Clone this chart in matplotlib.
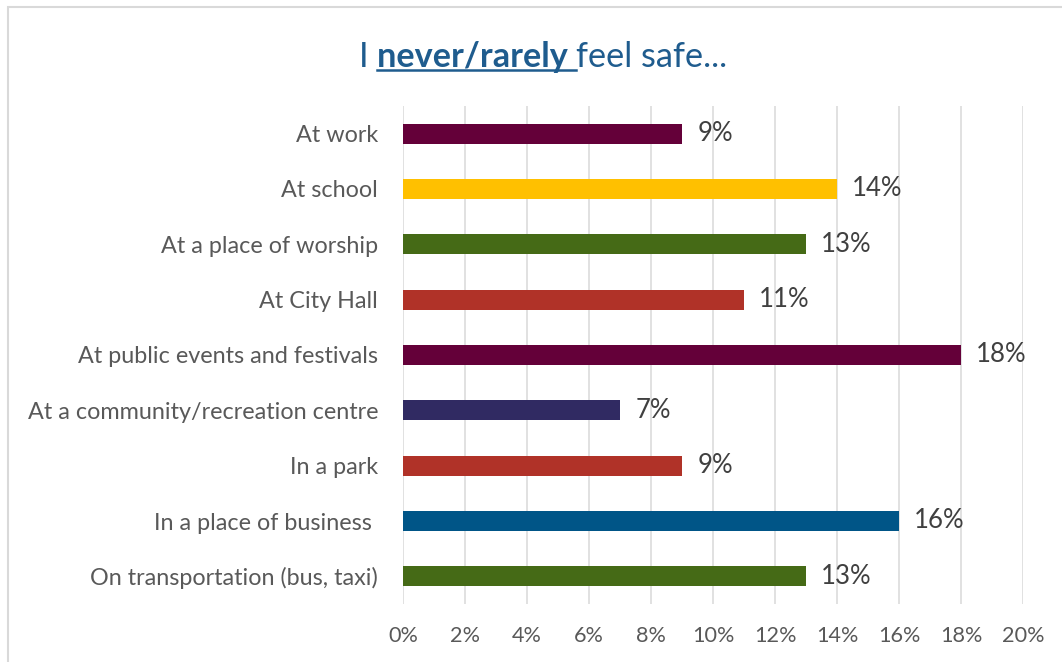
import matplotlib
matplotlib.use("Agg")
import matplotlib.pyplot as plt
from matplotlib.patches import Rectangle
from matplotlib.lines import Line2D
from matplotlib.ticker import FuncFormatter

plt.rcParams['font.family'] = ['Lato', 'DejaVu Sans']

# data
categories = ["At work", "At school", "At a place of worship", "At City Hall",
              "At public events and festivals", "At a community/recreation centre",
              "In a park", "In a place of business ", "On transportation (bus, taxi)"]
values = [9, 14, 13, 11, 18, 7, 9, 16, 13]
colors = ["#640039", "#FFC000", "#456A16", "#B03228", "#640039",
          "#302A62", "#B03228", "#005587", "#456A16"]
xticks = [0, 2, 4, 6, 8, 10, 12, 14, 16, 18, 20]
title_parts = ["I ", "never/rarely ", "feel safe..."]

W, H = 1062, 662
fig = plt.figure(figsize=(W / 100, H / 100), dpi=100)

# light border of the chart area
fig.patches.append(Rectangle((8 / W, -0.05), 1.1, 1 - 7 / H + 0.05,
                             transform=fig.transFigure, fill=False,
                             edgecolor="#D9D9D9", linewidth=1.5))

ax = fig.add_axes([403 / W, 58 / H, 620 / W, 498 / H])
ypos = list(range(len(categories)))
ax.barh(ypos, values, height=0.36, color=colors, zorder=3)

for y, v in zip(ypos, values):
    ax.annotate(f"{v}%", (v, y), xytext=(11, 0), textcoords="offset points",
                va="center", ha="left", fontsize=18.5, color="#404040")

ax.set_xlim(0, 20)
ax.set_ylim(len(categories) - 0.5, -0.5)
ax.set_xticks(xticks)
ax.xaxis.set_major_formatter(FuncFormatter(lambda x, p: f"{x:.0f}%"))
ax.set_yticks(ypos)
ax.set_yticklabels(categories)
ax.tick_params(axis="y", length=0, pad=18, labelsize=16.8, labelcolor="#595959")
ax.tick_params(axis="x", length=0, pad=16, labelsize=15.6, labelcolor="#595959")
ax.grid(axis="x", color="#D9D9D9", linewidth=1.1, zorder=0)
for s in ["top", "right", "bottom", "left"]:
    ax.spines[s].set_visible(False)

# title with bold/underlined middle part
tcol = "#1F5C8E"
fsize = 24.7
fig.canvas.draw()
r = fig.canvas.get_renderer()
weights = ["normal", "bold", "normal"]
texts = []
for part, w in zip(title_parts, weights):
    t = fig.text(0, 1 - 57 / H, part, fontsize=fsize, fontweight=w, color=tcol,
                 va="center", ha="left")
    texts.append(t)
widths = [t.get_window_extent(r).width for t in texts]
x = 543 - sum(widths) / 2
for t, w in zip(texts, widths):
    t.set_x(x / W)
    x += w
bb = texts[1].get_window_extent(r)
uy = bb.y0 + 3
fig.add_artist(Line2D([bb.x0 / W, bb.x1 / W], [uy / H, uy / H], color=tcol,
                      linewidth=1.8, transform=fig.transFigure))

fig.savefig("out.png", dpi=100)
